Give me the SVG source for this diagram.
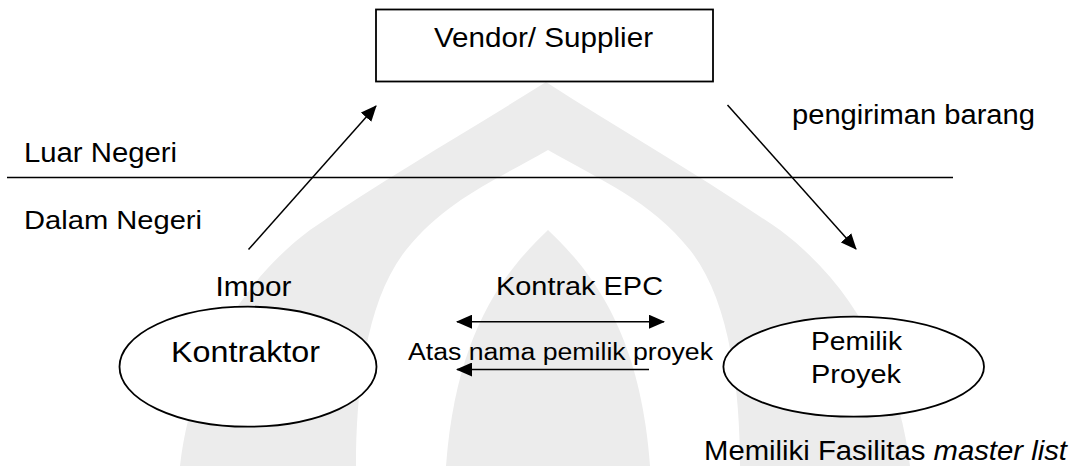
<svg xmlns="http://www.w3.org/2000/svg" width="1069" height="466" viewBox="0 0 1069 466">
  <defs>
    <style>
      .txt { font-family: "Liberation Sans", Arial, sans-serif; fill: #000; }
      .shape { fill: #fff; stroke: #000; stroke-width: 1.8; }
      .conn { fill: none; stroke: #000; stroke-width: 1.5; }
      .wm { fill: #ececec; }
      .wm-cut { fill: #fff; }
    </style>
    <marker id="head" viewBox="0 0 16 14" markerWidth="16" markerHeight="14" refX="15" refY="7" orient="auto-start-reverse" markerUnits="userSpaceOnUse">
      <path d="M0,0 L16,7 L0,14 z" fill="#000"/>
    </marker>
  </defs>

  <rect width="1069" height="466" fill="#fff"/>

  <!-- faint background emblem -->
  <g id="emblem">
    <path class="wm" d="M546 82 C620 130 700 175 780 230 C860 290 900 380 910 466 L180 466 C190 380 230 290 310 230 C390 175 470 130 546 82 Z"/>
    <path class="wm-cut" d="M548 150 C600 180 650 200 690 250 C730 300 740 390 740 466 L356 466 C356 390 366 300 406 250 C446 200 496 180 548 150 Z"/>
    <path class="wm" d="M548 230 C590 270 640 330 650 466 L446 466 C456 330 506 270 548 230 Z"/>
  </g>

  <!-- region divider -->
  <g id="divider">
    <line x1="7" y1="177.5" x2="953" y2="177.5" stroke="#000" stroke-width="1.6"/>
    <text class="txt" x="24" y="162" font-size="27" textLength="153" lengthAdjust="spacingAndGlyphs">Luar Negeri</text>
    <text class="txt" x="24" y="228.5" font-size="26.5" textLength="178" lengthAdjust="spacingAndGlyphs">Dalam Negeri</text>
  </g>

  <g id="vendor">
    <rect class="shape" x="376" y="9.5" width="337" height="72" stroke-width="2"/>
    <text class="txt" x="434" y="47" font-size="28.5" textLength="219" lengthAdjust="spacingAndGlyphs">Vendor/ Supplier</text>
  </g>

  <g id="kontraktor">
    <ellipse class="shape" cx="248" cy="366.7" rx="128.5" ry="60"/>
    <text class="txt" x="171" y="362" font-size="30" textLength="149" lengthAdjust="spacingAndGlyphs">Kontraktor</text>
  </g>

  <g id="pemilik">
    <ellipse class="shape" cx="853.7" cy="366.7" rx="130.3" ry="50"/>
    <text class="txt" x="811" y="349.5" font-size="26.5" textLength="91" lengthAdjust="spacingAndGlyphs">Pemilik</text>
    <text class="txt" x="811" y="382.5" font-size="26.5" textLength="90" lengthAdjust="spacingAndGlyphs">Proyek</text>
  </g>

  <g id="connectors">
    <line class="conn" x1="248.5" y1="249.5" x2="376" y2="106" marker-end="url(#head)"/>
    <line class="conn" x1="727.5" y1="105" x2="856" y2="249" marker-end="url(#head)"/>
    <line class="conn" x1="457" y1="321.7" x2="664" y2="321.7" marker-start="url(#head)" marker-end="url(#head)"/>
    <line class="conn" x1="649" y1="369.5" x2="457" y2="369.5" marker-end="url(#head)"/>
  </g>

  <g id="labels">
    <text class="txt" x="792" y="123.5" font-size="27" textLength="243" lengthAdjust="spacingAndGlyphs">pengiriman barang</text>
    <text class="txt" x="215.5" y="296" font-size="27" textLength="76" lengthAdjust="spacingAndGlyphs">Impor</text>
    <text class="txt" x="496" y="295" font-size="26" textLength="167" lengthAdjust="spacingAndGlyphs">Kontrak EPC</text>
    <text class="txt" x="408" y="360" font-size="23.5" textLength="305" lengthAdjust="spacingAndGlyphs">Atas nama pemilik proyek</text>
    <text class="txt" x="704" y="460" font-size="27" textLength="363" lengthAdjust="spacingAndGlyphs">Memiliki Fasilitas <tspan font-style="italic">master list</tspan></text>
  </g>
</svg>
